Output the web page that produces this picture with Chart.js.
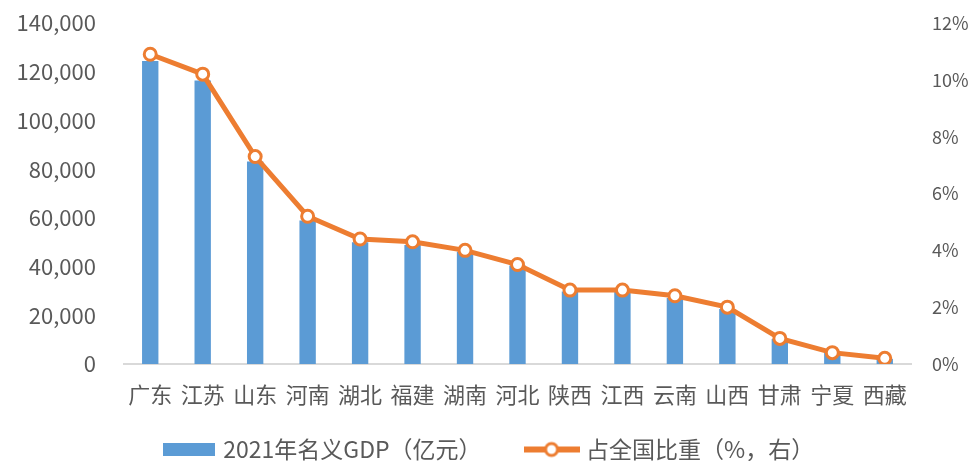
<!DOCTYPE html>
<html>
<head>
<meta charset="utf-8">
<script src="https://cdn.jsdelivr.net/npm/chart.js@4"></script>
<style>
  html, body { margin: 0; padding: 0; background: #fff; }
  #wrap { width: 980px; height: 461px; }
</style>
</head>
<body>
<div id="wrap"><canvas id="chart" width="980" height="461"></canvas></div>
<script>
const provinces = ['广东', '江苏', '山东', '河南', '湖北', '福建', '湖南', '河北', '陕西', '江西', '云南', '山西', '甘肃', '宁夏', '西藏'];
const gdp = [124370, 116364, 83096, 58887, 50013, 48810, 46063, 40391, 29801, 29620, 27147, 22590, 10243, 4522, 2080];
const share = [10.9, 10.2, 7.3, 5.2, 4.4, 4.3, 4.0, 3.5, 2.6, 2.6, 2.4, 2.0, 0.9, 0.4, 0.2];

const BLUE = '#5B9BD5';
const ORANGE = '#ED7D31';
const TEXT = '#595959';
const FONT = "'Noto Sans CJK SC', 'Noto Sans', sans-serif";

// legend swatches
const barSwatch = document.createElement('canvas');
barSwatch.width = 52;
barSwatch.height = 13;
(() => {
  const c = barSwatch.getContext('2d');
  c.fillStyle = BLUE;
  c.fillRect(0, 0, 52, 13);
})();

const lineSwatch = document.createElement('canvas');
lineSwatch.width = 56;
lineSwatch.height = 18;
(() => {
  const c = lineSwatch.getContext('2d');
  c.strokeStyle = ORANGE;
  c.lineWidth = 6;
  c.beginPath();
  c.moveTo(0, 9);
  c.lineTo(56, 9);
  c.stroke();
  c.beginPath();
  c.arc(28, 9, 6, 0, Math.PI * 2);
  c.fillStyle = '#fff';
  c.fill();
  c.lineWidth = 3;
  c.stroke();
})();

const data = {
  labels: provinces,
  datasets: [
    {
      type: 'bar',
      label: '2021年名义GDP（亿元）',
      data: gdp,
      backgroundColor: BLUE,
      yAxisID: 'y',
      order: 1,
      barPercentage: 0.6,
      categoryPercentage: 0.52,
    },
    {
      type: 'line',
      label: '占全国比重（%，右）',
      data: share,
      borderColor: ORANGE,
      borderWidth: 5,
      pointRadius: 6,
      pointBorderWidth: 3,
      pointBackgroundColor: '#fff',
      pointBorderColor: ORANGE,
      yAxisID: 'y1',
      order: 0,
      tension: 0,
    },
  ],
};

const config = {
  data: data,
  options: {
    responsive: false,
    animation: false,
    layout: {
      padding: { top: 23, left: 0, right: 0, bottom: -10 },
    },
    plugins: {
      legend: {
        position: 'bottom',
        labels: {
          color: TEXT,
          font: { family: FONT, size: 23 },
          usePointStyle: true,
          pointStyleWidth: 46,
          padding: 24,
          sort: (a, b) => a.datasetIndex - b.datasetIndex,
          generateLabels: (chart) =>
            chart.data.datasets.map((ds, i) => ({
              // trailing spaces widen the gap before the next item
              text: i === 0 ? ds.label + '\u3000\u2002' : ds.label,
              datasetIndex: i,
              pointStyle: i === 0 ? barSwatch : lineSwatch,
              fontColor: TEXT,
              hidden: false,
              lineWidth: 0,
              strokeStyle: 'transparent',
              fillStyle: 'transparent',
            })),
        },
      },
      tooltip: { enabled: false },
    },
    scales: {
      x: {
        grid: { display: false, drawTicks: false },
        border: { display: true, color: '#D9D9D9', width: 2 },
        afterFit: (scale) => { scale.height = 50; },
        ticks: {
          color: TEXT,
          font: { family: FONT, size: 22 },
          padding: 17,
          maxRotation: 0,
          autoSkip: false,
        },
      },
      y: {
        position: 'left',
        min: 0,
        max: 140000,
        grid: { display: false, drawTicks: false },
        border: { display: false },
        afterFit: (scale) => {
          scale.width = 124;
          scale.paddingTop = 0;
          scale.paddingBottom = 0;
        },
        ticks: {
          stepSize: 20000,
          color: TEXT,
          font: { family: FONT, size: 22 },
          padding: 28,
          callback: (v) => v.toLocaleString('en-US'),
        },
      },
      y1: {
        position: 'right',
        min: 0,
        max: 12,
        grid: { display: false, drawTicks: false },
        border: { display: false },
        afterFit: (scale) => {
          scale.width = 69;
          scale.paddingTop = 0;
          scale.paddingBottom = 0;
        },
        ticks: {
          stepSize: 2,
          color: TEXT,
          font: { family: FONT, size: 18 },
          padding: 21,
          callback: (v) => v + '%',
        },
      },
    },
  },
};

new Chart(document.getElementById('chart'), config);
</script>
</body>
</html>
